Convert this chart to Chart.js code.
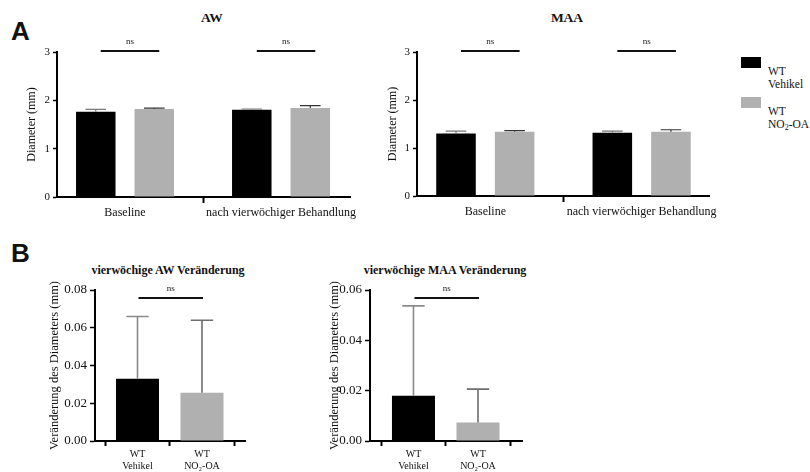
<!DOCTYPE html>
<html>
<head>
<meta charset="utf-8">
<script src="https://cdn.jsdelivr.net/npm/chart.js@4.4.1/dist/chart.umd.min.js"></script>
<style>
  body { margin: 0; width: 810px; height: 472px; background: #fff; position: relative; overflow: hidden;
         font-family: 'Liberation Serif', serif; color: #111; }
  canvas { position: absolute; }
  .panel { position: absolute; font-family: 'Liberation Sans', sans-serif; font-weight: bold; font-size: 26px; line-height: 26px; }
  .title { position: absolute; font-weight: bold; white-space: nowrap; transform: translateX(-50%); }
  .box { position: absolute; width: 20px; height: 11px; }
  .leg { position: absolute; font-size: 11.5px; line-height: 13.4px; }
  sub { font-size: 8px; vertical-align: -2px; line-height: 0; }
</style>
</head>
<body>
<div class="panel" style="left:11px; top:18px;">A</div>
<div class="panel" style="left:11px; top:240px;">B</div>

<div class="title" style="left:212px; top:10px; font-size:13.5px;">AW</div>
<div class="title" style="left:567px; top:10px; font-size:13.5px;">MAA</div>
<div class="title" style="left:168px; top:263px; font-size:12px;">vierwöchige AW Veränderung</div>
<div class="title" style="left:445px; top:263px; font-size:12px;">vierwöchige MAA Veränderung</div>

<div class="box" style="left:741px; top:57px; background:#000;"></div>
<div class="leg" style="left:768px; top:65px;">WT<br>Vehikel</div>
<div class="box" style="left:741px; top:97px; background:#b0b0b0;"></div>
<div class="leg" style="left:768px; top:105px;">WT<br>NO<sub>2</sub>-OA</div>

<canvas id="aw" width="400" height="235" style="left:0; top:0;"></canvas>
<canvas id="maa" width="360" height="235" style="left:380px; top:0;"></canvas>
<canvas id="awChange" width="280" height="232" style="left:0; top:240px;"></canvas>
<canvas id="maaChange" width="260" height="232" style="left:280px; top:240px;"></canvas>

<script>
// panel A: diameter (mm), mean with upper error
const groups = ['Baseline', 'nach vierwöchiger Behandlung'];
const awVehikel = [1.765, 1.806];
const awVehikelErr = [0.05, 0.015];
const awNo2 = [1.82, 1.84];
const awNo2Err = [0.02, 0.05];
const maaVehikel = [1.30, 1.32];
const maaVehikelErr = [0.05, 0.03];
const maaNo2 = [1.34, 1.34];
const maaNo2Err = [0.02, 0.04];
const yTicksA = [0, 1, 2, 3];

// panel B: four-week change of diameter (mm)
const groupsB = [['WT', 'Vehikel'], ['WT', 'NO₂-OA']];
const awChange = [0.0330, 0.0256];
const awChangeErr = [0.033, 0.0384];
const maaChange = [0.0180, 0.0074];
const maaChangeErr = [0.0357, 0.0132];
const yTicksAwChange = [0, 0.02, 0.04, 0.06, 0.08];
const yTicksMaaChange = [0, 0.02, 0.04, 0.06];

Chart.defaults.font.family = "'Liberation Serif', serif";
Chart.defaults.color = '#111';

const BLACK = '#000000';
const GRAY = '#b0b0b0';

const errorBars = {
    id: 'errorBars',
    afterDatasetsDraw(chart) {
        const ctx = chart.ctx;
        const y = chart.scales.y;
        chart.data.datasets.forEach((ds, di) => {
            const colors = [].concat(ds.errColor);
            chart.getDatasetMeta(di).data.forEach((bar, i) => {
                const top = y.getPixelForValue(ds.data[i].y + ds.errors[i]);
                const half = bar.width * 0.26;
                ctx.save();
                ctx.strokeStyle = colors[i % colors.length];
                ctx.lineWidth = ds.errWidth;
                ctx.beginPath();
                ctx.moveTo(bar.x, bar.y);
                ctx.lineTo(bar.x, top);
                ctx.moveTo(bar.x - half, top);
                ctx.lineTo(bar.x + half, top);
                ctx.stroke();
                ctx.restore();
            });
        });
    }
};

const nsBrackets = {
    id: 'nsBrackets',
    afterDatasetsDraw(chart, args, opts) {
        const ctx = chart.ctx;
        const yy = chart.chartArea.top + opts.dy;
        opts.pairs.forEach(([a, b]) => {
            const x1 = chart.getDatasetMeta(a[0]).data[a[1]].x + opts.dx;
            const x2 = chart.getDatasetMeta(b[0]).data[b[1]].x + opts.dx;
            ctx.save();
            ctx.strokeStyle = '#111';
            ctx.lineWidth = 2;
            ctx.beginPath();
            ctx.moveTo(x1, yy);
            ctx.lineTo(x2, yy);
            ctx.stroke();
            ctx.fillStyle = '#222';
            ctx.font = "9px 'Liberation Serif'";
            ctx.textAlign = 'center';
            ctx.textBaseline = 'middle';
            ctx.fillText('ns', (x1 + x2) / 2, yy - 9);
            ctx.restore();
        });
    }
};

function makeChart(id, o) {
    return new Chart(document.getElementById(id), {
        type: 'bar',
        data: {datasets: o.datasets},
        plugins: [errorBars, nsBrackets],
        options: {
            responsive: false,
            animation: false,
            events: [],
            layout: {padding: {top: o.top, right: o.right, left: 0, bottom: 0}},
            plugins: {
                legend: {display: false},
                tooltip: {enabled: false},
                nsBrackets: {pairs: o.pairs, dx: o.nsDx, dy: o.nsDy}
            },
            scales: {
                x: {
                    type: 'linear',
                    offset: false,
                    min: o.xMin,
                    max: o.xMax,
                    afterBuildTicks: s => { s.ticks = o.labels.map((l, i) => ({value: i})); },
                    afterFit: s => { s.height = o.xHeight; },
                    ticks: {
                        callback: v => o.labels[v],
                        font: {size: o.xFont},
                        color: '#111',
                        padding: o.xPad,
                        maxRotation: 0,
                        autoSkip: false
                    },
                    grid: {display: true, drawOnChartArea: false, tickLength: o.xTick, tickWidth: 2, tickColor: '#000'},
                    border: {color: '#000', width: 2}
                },
                y: {
                    min: 0,
                    max: o.yTicks[o.yTicks.length - 1],
                    afterBuildTicks: s => { s.ticks = o.yTicks.map(v => ({value: v})); },
                    afterFit: s => { s.width = o.yWidth; },
                    ticks: {
                        callback: v => o.yDigits ? v.toFixed(o.yDigits) : v,
                        font: {size: o.yFont},
                        color: '#111',
                        padding: 3
                    },
                    title: {
                        display: true,
                        text: o.yTitle,
                        font: {size: o.yTitleFont},
                        color: '#111',
                        padding: {top: o.yTitlePad, bottom: 0}
                    },
                    grid: {display: true, drawOnChartArea: false, tickLength: o.yTick, tickWidth: 1.5, tickColor: '#000'},
                    border: {color: '#000', width: 2}
                }
            }
        }
    });
}

function groupedSets(veh, vehErr, no2, no2Err) {
    const common = {categoryPercentage: 0.75, barPercentage: 0.675, errWidth: 1.2};
    return [
        Object.assign({label: 'WT Vehikel', data: groups.map((g, i) => ({x: i, y: veh[i]})),
            errors: vehErr, backgroundColor: BLACK, errColor: '#777'}, common),
        Object.assign({label: 'WT NO₂-OA', data: groups.map((g, i) => ({x: i, y: no2[i]})),
            errors: no2Err, backgroundColor: GRAY, errColor: '#333'}, common)
    ];
}

function changeSet(vals, errs) {
    return [{
        label: 'Veränderung',
        data: groupsB.map((g, i) => ({x: i, y: vals[i]})),
        errors: errs,
        backgroundColor: [BLACK, GRAY],
        errColor: ['#8a8a8a', '#6e6e6e'],
        errWidth: 1.6,
        categoryPercentage: 1,
        barPercentage: 0.667
    }];
}

const commonA = {
    labels: groups, yTicks: yTicksA, yTitle: 'Diameter (mm)', yTitleFont: 12, yFont: 11,
    xFont: 12, xPad: 3, xTick: 6, yTick: 4, top: 52,
    pairs: [[[0, 0], [1, 0]], [[0, 1], [1, 1]]], nsDx: 5, nsDy: -1
};

makeChart('aw', Object.assign({}, commonA, {
    datasets: groupedSets(awVehikel, awVehikelErr, awNo2, awNo2Err),
    xMin: -0.436, xMax: 1.442, yWidth: 57, yTitlePad: 24.8, right: 50, xHeight: 38
}));

makeChart('maa', Object.assign({}, commonA, {
    datasets: groupedSets(maaVehikel, maaVehikelErr, maaNo2, maaNo2Err),
    xMin: -0.437, xMax: 1.431, yWidth: 37, yTitlePad: 5.8, right: 31, xHeight: 39
}));

const commonB = {
    labels: groupsB, yTitle: 'Veränderung des Diameters (mm)', yTitleFont: 12.5, yFont: 13, yDigits: 2,
    xFont: 10, xPad: 2, xTick: 5, yTick: 5, top: 50, xHeight: 31,
    pairs: [[[0, 0], [0, 1]]], nsDx: 1, nsDy: 8
};

makeChart('awChange', Object.assign({}, commonB, {
    datasets: changeSet(awChange, awChangeErr), yTicks: yTicksAwChange,
    xMin: -0.659, xMax: 1.667, yWidth: 95, yTitlePad: 47, right: 35
}));

makeChart('maaChange', Object.assign({}, commonB, {
    datasets: changeSet(maaChange, maaChangeErr), yTicks: yTicksMaaChange,
    xMin: -0.674, xMax: 1.693, yWidth: 90, yTitlePad: 47, right: 17.3
}));
</script>
</body>
</html>
